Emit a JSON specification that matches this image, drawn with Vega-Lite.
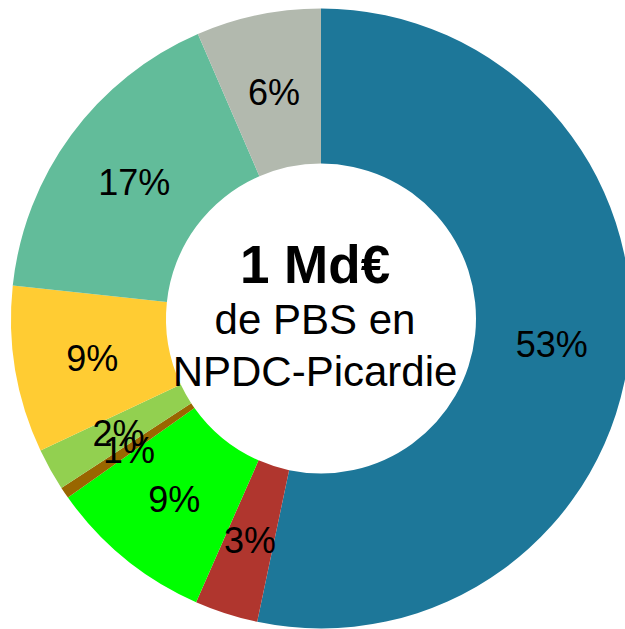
{
  "$schema": "https://vega.github.io/schema/vega-lite/v6.json",
  "width": 625,
  "height": 629,
  "autosize": {"type": "fit", "contains": "padding"},
  "padding": {"left": 17, "top": 8, "right": 0, "bottom": 0},
  "background": "white",
  "config": {"view": {"stroke": null}, "font": "Liberation Sans"},
  "layer": [
    {
      "data": {"name": "slices", "values": [
        {"k": "a", "order": 1, "value": 53.3, "label": "53%", "color": "#1d7799"},
        {"k": "b", "order": 2, "value": 3.3, "label": "3%", "color": "#b0362e"},
        {"k": "c", "order": 3, "value": 8.6, "label": "9%", "color": "#00ff00"},
        {"k": "d", "order": 4, "value": 0.6, "label": "1%", "color": "#996600"},
        {"k": "e", "order": 5, "value": 2.2, "label": "2%", "color": "#92d050"},
        {"k": "f", "order": 6, "value": 8.7, "label": "9%", "color": "#ffcc33"},
        {"k": "g", "order": 7, "value": 16.8, "label": "17%", "color": "#62bc9a"},
        {"k": "h", "order": 8, "value": 6.5, "label": "6%", "color": "#b2b9ae"}
      ]},
      "layer": [
        {
          "mark": {"type": "arc", "outerRadius": 310, "innerRadius": 155},
          "encoding": {
            "theta": {"field": "value", "type": "quantitative", "stack": true},
            "order": {"field": "order", "type": "quantitative"},
            "color": {"field": "color", "type": "nominal", "scale": null, "legend": null}
          }
        },
        {
          "mark": {"type": "text", "radius": 232, "fontSize": 36, "font": "Liberation Sans", "color": "black", "baseline": "middle", "align": "center", "dy": 3},
          "encoding": {
            "theta": {"field": "value", "type": "quantitative", "stack": true},
            "order": {"field": "order", "type": "quantitative"},
            "text": {"field": "label", "type": "nominal"}
          }
        }
      ]
    },
    {
      "data": {"values": [{"t": "1 Md€"}]},
      "mark": {"type": "text", "font": "Liberation Sans", "fontWeight": "bold", "fontSize": 53, "baseline": "alphabetic", "align": "center", "dx": -6, "dy": -36, "color": "black"},
      "encoding": {"text": {"field": "t", "type": "nominal"}}
    },
    {
      "data": {"values": [{"t": "de PBS en"}]},
      "mark": {"type": "text", "font": "Liberation Sans", "fontSize": 42, "baseline": "alphabetic", "align": "center", "dx": -6, "dy": 15, "color": "black"},
      "encoding": {"text": {"field": "t", "type": "nominal"}}
    },
    {
      "data": {"values": [{"t": "NPDC-Picardie"}]},
      "mark": {"type": "text", "font": "Liberation Sans", "fontSize": 42, "baseline": "alphabetic", "align": "center", "dx": -6, "dy": 67, "color": "black"},
      "encoding": {"text": {"field": "t", "type": "nominal"}}
    }
  ]
}
